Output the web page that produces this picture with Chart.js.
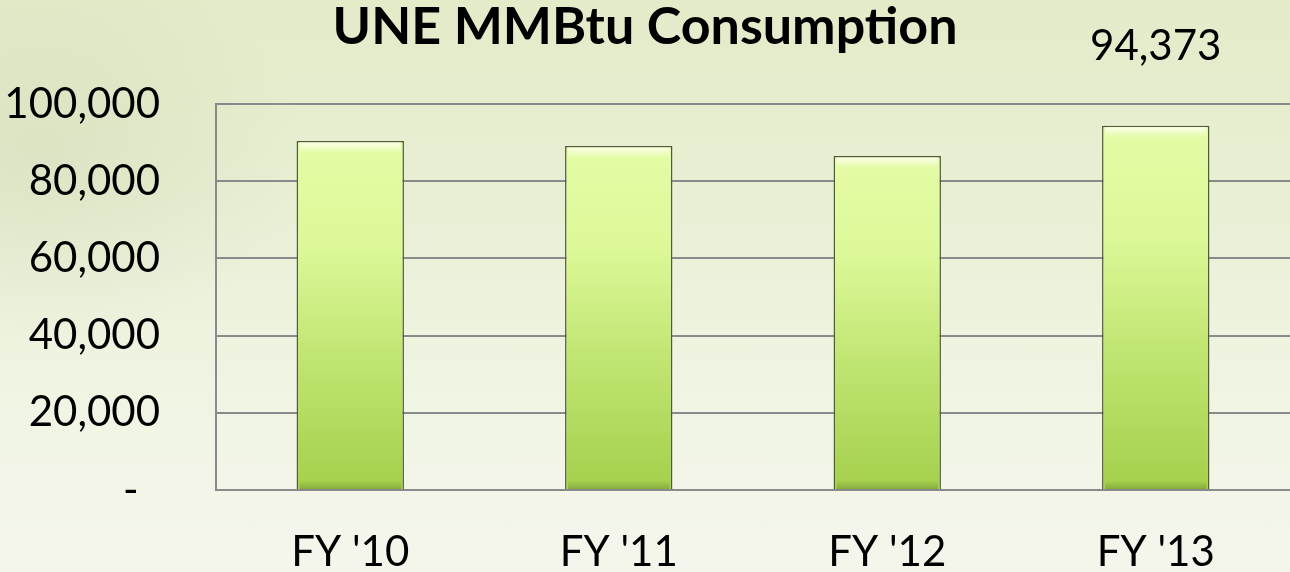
<!DOCTYPE html>
<html>
<head>
<meta charset="utf-8">
<script src="https://cdn.jsdelivr.net/npm/chart.js@4.4.1/dist/chart.umd.min.js"></script>
<style>
  html, body { margin: 0; padding: 0; }
  body {
    width: 1290px; height: 572px; overflow: hidden;
    background:
      radial-gradient(ellipse 380px 280px at 40px 150px, rgba(175,190,145,0.22), rgba(175,190,145,0) 70%),
      linear-gradient(180deg, #e3ebc9 0%, #e8efd4 35%, #eff4e2 65%, #f4f6ec 100%);
  }
  #wrap { position: relative; width: 1290px; height: 572px; }
  canvas { display: block; }
</style>
</head>
<body>
<div id="wrap"><canvas id="mmbtuChart" width="1290" height="572"></canvas></div>
<script>
// chart data
const categories = ["FY '10", "FY '11", "FY '12", "FY '13"];
const consumption = [90400, 89100, 86500, 94373];
const yTicks = [0, 20000, 40000, 60000, 80000, 100000];
const labelledBars = ["FY '13"];

const FONT = "Lato, 'Open Sans', sans-serif";

// per-bar vertical gradient, light top to deeper green at the base
function barFill(ctx) {
  const chart = ctx.chart;
  if (!chart.chartArea || ctx.raw == null) return "#c8ec7a";
  const y = chart.scales.y;
  const top = y.getPixelForValue(ctx.raw);
  const bottom = y.getPixelForValue(0);
  const g = chart.ctx.createLinearGradient(0, top, 0, bottom);
  g.addColorStop(0, "#e4fca6");
  g.addColorStop(0.3, "#dcf898");
  g.addColorStop(0.6, "#c2e674");
  g.addColorStop(1, "#a4d04c");
  return g;
}

// soft bevel on the bars
const bevel = {
  id: "bevel",
  afterDatasetsDraw(chart) {
    const c = chart.ctx;
    chart.getDatasetMeta(0).data.forEach(bar => {
      const left = bar.x - bar.width / 2;
      const top = bar.y;
      c.save();
      let g = c.createLinearGradient(0, top, 0, top + 12);
      g.addColorStop(0, "rgba(255,255,240,1)");
      g.addColorStop(1, "rgba(255,255,240,0)");
      c.fillStyle = g;
      c.fillRect(left + 3, top + 1.5, bar.width - 6, 12);
      g = c.createLinearGradient(0, bar.base - 8, 0, bar.base);
      g.addColorStop(0, "rgba(110,140,50,0)");
      g.addColorStop(1, "rgba(110,140,50,0.55)");
      c.fillStyle = g;
      c.fillRect(left + 3, bar.base - 8, bar.width - 6, 8);
      c.restore();
    });
  }
};

// data label for the latest year, sitting high above its bar
const valueLabel = {
  id: "valueLabel",
  afterDraw(chart) {
    const c = chart.ctx;
    const meta = chart.getDatasetMeta(0);
    c.save();
    c.font = "42px " + FONT;
    c.fillStyle = "#000";
    c.textAlign = "center";
    c.textBaseline = "middle";
    categories.forEach((cat, i) => {
      if (!labelledBars.includes(cat)) return;
      const bar = meta.data[i];
      c.fillText(consumption[i].toLocaleString("en-US"), bar.x, bar.y - 79);
    });
    c.restore();
  }
};

new Chart(document.getElementById("mmbtuChart"), {
  type: "bar",
  data: {
    labels: categories,
    datasets: [{
      label: "MMBtu",
      data: consumption,
      backgroundColor: barFill,
      borderColor: "#4f5c3a",
      borderWidth: 1.5,
      borderSkipped: "bottom",
      barPercentage: 0.4,
      categoryPercentage: 1.0
    }]
  },
  options: {
    responsive: false,
    animation: false,
    devicePixelRatio: 1,
    layout: { padding: { left: 0, right: 0, top: 0, bottom: 0 } },
    plugins: {
      legend: { display: false },
      tooltip: { enabled: false },
      title: {
        display: true,
        text: "UNE MMBtu Consumption",
        color: "#000",
        font: { family: FONT, size: 52, weight: "bold", lineHeight: 1.0 },
        padding: { top: 1, bottom: 51 }
      }
    },
    scales: {
      x: {
        afterFit: s => { s.height = 82; },
        grid: { display: false },
        border: { display: true, color: "#8a8a8a", width: 2 },
        ticks: {
          color: "#000",
          padding: 33,
          maxRotation: 0,
          font: { family: FONT, size: 42, lineHeight: 1.0 }
        }
      },
      y: {
        min: 0,
        max: 100000,
        afterBuildTicks: s => { s.ticks = yTicks.map(v => ({ value: v })); },
        afterFit: s => { s.width = 216; },
        grid: { color: "#8a8a8a", lineWidth: 2, drawTicks: false },
        border: { display: true, color: "#8a8a8a", width: 2 },
        ticks: {
          color: "#000",
          padding: 56,
          font: { family: FONT, size: 42, lineHeight: 1.0 },
          callback: v => v === 0 ? "-  " : v.toLocaleString("en-US")
        }
      }
    }
  },
  plugins: [bevel, valueLabel]
});
</script>
</body>
</html>
